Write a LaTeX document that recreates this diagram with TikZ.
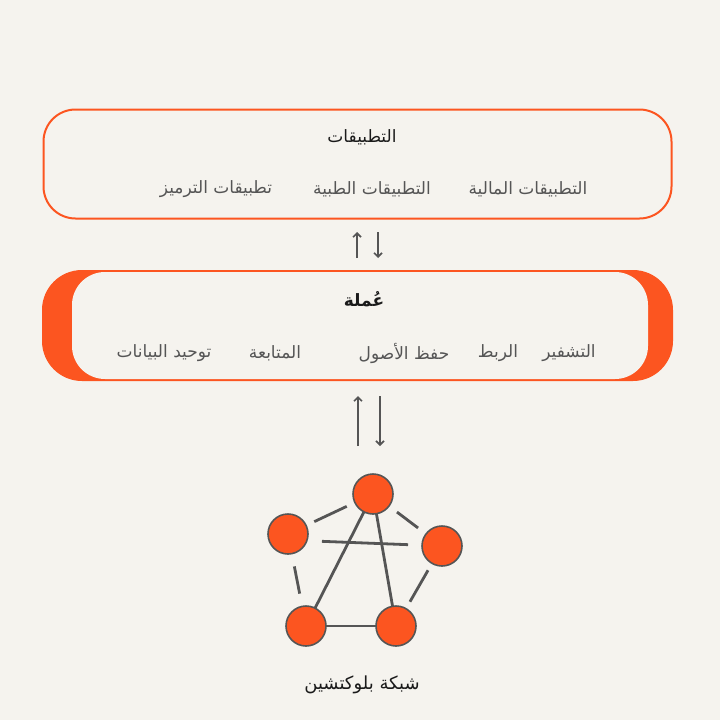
\documentclass[tikz,border=0pt]{standalone}
\usepackage{fontspec}
\newfontfamily\arabicfont[Script=Arabic]{DejaVu Sans}
\TeXXeTstate=1
\usetikzlibrary{arrows.meta}
\definecolor{bg}{HTML}{F5F3EE}
\definecolor{acc}{HTML}{FC5520}
\definecolor{ink}{HTML}{555555}
\definecolor{dark}{HTML}{1A1A1A}
\begin{document}
\begin{tikzpicture}[x=1pt,y=-1pt,
  ttl/.style={font=\arabicfont\fontsize{17}{19}\selectfont, text=dark, inner sep=0pt},
  item/.style={font=\arabicfont\fontsize{17}{19}\selectfont, text=ink, inner sep=0pt},
  flow/.style={draw=ink, line width=1.6pt, -{Straight Barb[length=4pt,width=8pt]}},
  peer/.style={circle, fill=acc, draw=ink, line width=1.6pt, minimum size=40pt, inner sep=0pt},
  link/.style={draw=ink, line width=2.8pt},
  gap/.style={shorten <=#1, shorten >=#1}]
\useasboundingbox[fill=bg] (0,0) rectangle (720,720);
% applications box
\node[draw=acc, line width=2pt, rounded corners=32pt, minimum width=628pt, minimum height=109pt, inner sep=0pt] (apps) at (357.5,164) {};
\node[ttl] (appsT) at (362,137) {\beginR التطبيقات\endR};
\node[item] (a1) at (528,189) {\beginR التطبيقات المالية\endR};
\node[item] (a2) at (372,189) {\beginR التطبيقات الطبية\endR};
\node[item] (a3) at (216,189) {\beginR تطبيقات الترميز\endR};
% coin box
\node[fill=acc, rounded corners=40pt, minimum width=631pt, minimum height=111pt, inner sep=0pt] (coin) at (357.5,325.5) {};
\node[fill=bg, rounded corners=33pt, minimum width=576pt, minimum height=107pt, inner sep=0pt] (coinin) at (360,325.5) {};
\node[ttl, font=\arabicfont\bfseries\fontsize{17}{19}\selectfont] (coinT) at (364,299) {\beginR عُملة\endR};
\node[item] (c1) at (569,353) {\beginR التشفير\endR};
\node[item] (c2) at (498,353) {\beginR الربط\endR};
\node[item] (c3) at (404,353) {\beginR حفظ الأصول\endR};
\node[item] (c4) at (275,353) {\beginR المتابعة\endR};
\node[item] (c5) at (164,353) {\beginR توحيد البيانات\endR};
% arrows between boxes
\coordinate (u1s) at (357,258); \coordinate (u1e) at (357,232);
\coordinate (d1s) at (378,232); \coordinate (d1e) at (378,258);
\draw[flow] (u1s) -- (u1e);
\draw[flow] (d1s) -- (d1e);
\coordinate (u2s) at (358,446); \coordinate (u2e) at (358,396);
\coordinate (d2s) at (380,396); \coordinate (d2e) at (380,446);
\draw[flow] (u2s) -- (u2e);
\draw[flow] (d2s) -- (d2e);
% network
\coordinate (p1) at (373,494);
\coordinate (p2) at (288,534);
\coordinate (p3) at (442,546);
\coordinate (p4) at (306,626);
\coordinate (p5) at (396,626);
\coordinate (p2b) at (288,540);
\draw[link, gap=29pt] (p1) -- (p2);
\draw[link, gap=30pt] (p1) -- (p3);
\draw[link, gap=34pt] (p2b) -- (p3);
\draw[link, gap=33pt] (p2) -- (p4);
\draw[link, gap=28pt] (p3) -- (p5);
\draw[link] (p1) -- (p4);
\draw[link] (p1) -- (p5);
\draw[link] (p4) -- (p5);
\node[peer] (n1) at (p1) {};
\node[peer] (n2) at (p2) {};
\node[peer] (n3) at (p3) {};
\node[peer] (n4) at (p4) {};
\node[peer] (n5) at (p5) {};
\node[ttl, font=\arabicfont\fontsize{18}{20}\selectfont] (netT) at (362,685) {\beginR شبكة بلوكتشين\endR};
\end{tikzpicture}
\end{document}
